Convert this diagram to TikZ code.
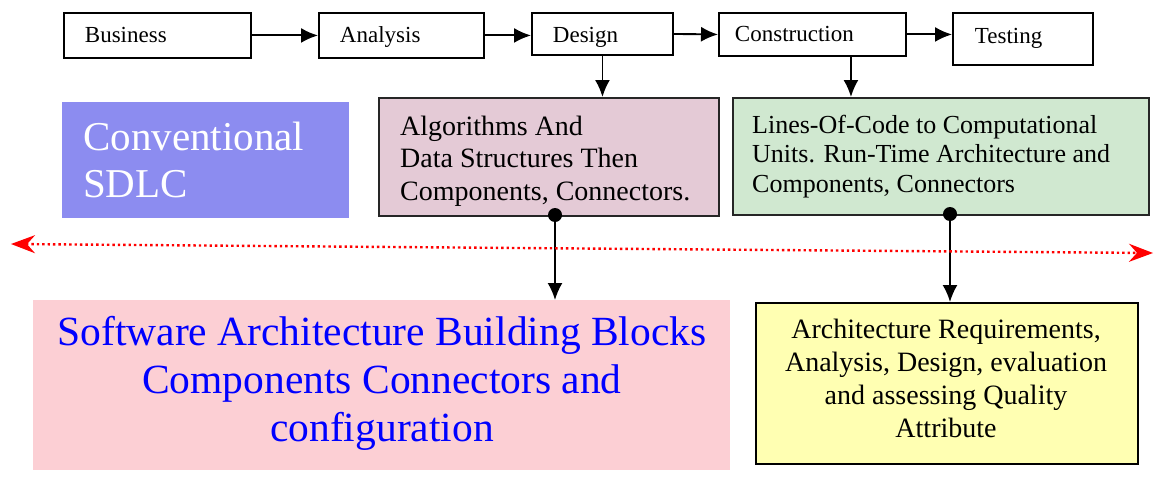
\documentclass[tikz,border=0pt]{standalone}
\usepackage{fontspec}
\setmainfont{Liberation Serif}
\usetikzlibrary{arrows.meta,calc}

\definecolor{convblue}{RGB}{140,140,240}
\definecolor{algpink}{RGB}{228,202,214}
\definecolor{codegreen}{RGB}{208,232,208}
\definecolor{archpink}{RGB}{252,207,212}
\definecolor{reqyellow}{RGB}{255,255,178}
\definecolor{archblue}{RGB}{0,0,255}

\begin{document}
\begin{tikzpicture}[x=1pt,y=-1pt,
  stage/.style={draw, line width=1.9pt, anchor=north west, align=left,
    inner ysep=0pt, text height=18pt, text depth=3pt,
    font=\fontsize{23}{27}\selectfont},
  panel/.style={anchor=north west, inner sep=0pt},
  flow/.style={-{Latex[length=17pt,width=15pt]}, line width=1.9pt},
  joint/.style={circle, fill=black, inner sep=0pt, minimum size=14pt},
  divider/.style={red, line width=2.4pt, dash pattern=on 2.4pt off 3pt,
    {Stealth[length=24pt,width=18pt,inset=8pt]}-{Stealth[length=24pt,width=18pt,inset=8pt]}}
]
\useasboundingbox (0,0) rectangle (1155,495);

% process stages
\node[stage, inner xsep=21pt, text width=145pt, minimum height=45pt] (bus) at (63,12) {Business};
\node[stage, inner xsep=21pt, text width=123pt, minimum height=45pt] (ana) at (318,12) {Analysis};
\node[stage, inner xsep=21pt, text width=99pt, minimum height=42pt, text height=21pt] (des) at (531,12) {Design};
\node[stage, inner xsep=16pt, text width=155pt, minimum height=43pt] (con) at (718,12) {Construction};
\node[stage, inner xsep=22pt, text width=96pt, minimum height=52pt, text depth=8pt] (tst) at (952,12) {Testing};

\draw[flow] (bus.east) -- (ana.west);
\draw[flow] (ana.east) -- (ana.east -| des.west);
\draw[flow] (des.east) -- (con.west);
\draw[flow] (con.east) -- (con.east -| tst.west);

% panels
\node[panel, fill=convblue, minimum width=287pt, minimum height=116pt] (conv) at (62,102) {};
\node[anchor=west, align=left, inner sep=0pt, text=white,
  font=\fontsize{41}{47}\selectfont] (convT) at (83,159.5) {Conventional\\SDLC};

\node[panel, draw=black!85, line width=1.5pt, fill=algpink,
  minimum width=340pt, minimum height=118pt] (alg) at (378,97) {};
\node[anchor=west, align=left, inner sep=0pt,
  font=\fontsize{28}{32.5}\selectfont] (algT) at (400,161)
  {Algorithms And\\Data Structures Then\\Components, Connectors.};

\node[panel, draw=black!85, line width=1.5pt, fill=codegreen,
  minimum width=416pt, minimum height=117pt] (grn) at (732,97) {};
\node[anchor=west, align=left, inner sep=0pt,
  font=\fontsize{26}{29.5}\selectfont] (grnT) at (752,156.4)
  {Lines-Of-Code to Computational\\Units. Run-Time Architecture and\\Components, Connectors};

\node[panel, fill=archpink, minimum width=697pt, minimum height=170pt] (arch) at (33,300) {};
\node[align=center, inner sep=0pt, text=archblue,
  font=\fontsize{41.5}{48}\selectfont] (archT) at (382,383.7)
  {Software Architecture Building Blocks\\Components Connectors and\\configuration};

\node[panel, draw=black, line width=2pt, fill=reqyellow,
  minimum width=382pt, minimum height=161pt] (yel) at (755,302) {};
\node[align=center, inner sep=0pt,
  font=\fontsize{28}{33}\selectfont] (yelT) at (946,378)
  {Architecture Requirements,\\Analysis, Design, evaluation\\and assessing Quality\\Attribute};

% links into the panels
\draw[flow] (des.south) -- (des.south |- alg.north);
\coordinate (conDrop) at ($(con.south)+(38.5,0)$);
\draw[flow] (conDrop) -- (conDrop |- grn.north);

\coordinate (p1) at (555,215);
\coordinate (p2) at (950,214);
\draw[flow] (p1) -- (p1 |- arch.north);
\draw[flow] (p2) -- (p2 |- yel.north);
\node[joint] (j1) at (p1) {};
\node[joint] (j2) at (p2) {};

% boundary line
\coordinate (westEnd) at (11,244);
\coordinate (eastEnd) at (1153,253);
\draw[divider] (westEnd) -- (eastEnd);
\end{tikzpicture}
\end{document}
